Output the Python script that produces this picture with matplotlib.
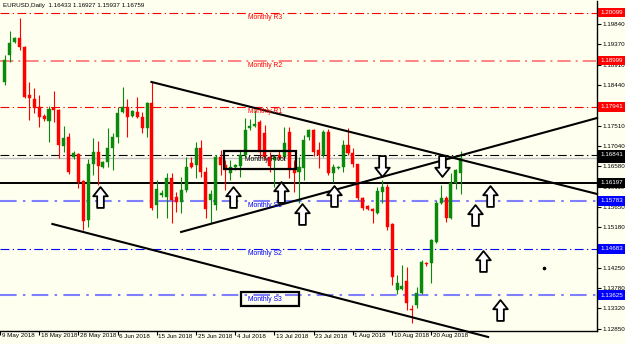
import numpy as np
import matplotlib.pyplot as plt
from matplotlib.path import Path
from matplotlib.transforms import blended_transform_factory, ScaledTranslation

plt.rcParams['font.family'] = ['Liberation Sans', 'DejaVu Sans']

# daily candles, bar index -1 .. 92 (one bar per trading day incl. sunday bars)
opens = [1.1851, 1.1913, 1.1943, 1.1952, 1.1931, 1.1821, 1.1812, 1.1794, 1.1773, 1.1762,
         1.1791, 1.1787, 1.1704, 1.1725, 1.1679, 1.1686, 1.1624, 1.1535, 1.1663, 1.1691,
         1.1656, 1.1668, 1.1700, 1.1725, 1.1782, 1.1794, 1.1773, 1.1782, 1.1771, 1.1746,
         1.1803, 1.1569, 1.1592, 1.1588, 1.1631, 1.1588, 1.1576, 1.1604, 1.1665, 1.1661,
         1.1700, 1.1645, 1.1581, 1.1569, 1.1679, 1.1661, 1.1643, 1.1656, 1.1658, 1.1684,
         1.1746, 1.1750, 1.1759, 1.1734, 1.1679, 1.1672, 1.1684, 1.1679, 1.1736, 1.1654,
         1.1645, 1.1654, 1.1725, 1.1741, 1.1695, 1.1684, 1.1736, 1.1643, 1.1654, 1.1656,
         1.1707, 1.1688, 1.1663, 1.1585, 1.1567, 1.1560, 1.1551, 1.1599, 1.1610, 1.1526,
         1.1374, 1.1377, 1.1395, 1.1331, 1.1339, 1.1367, 1.1437, 1.1436, 1.1484, 1.1574,
         1.1585, 1.1539, 1.1620, 1.16433]
highs = [1.1913, 1.1968, 1.1954, 1.1998, 1.1934, 1.1851, 1.1837, 1.1821, 1.1778, 1.1796,
         1.1830, 1.1789, 1.1750, 1.1734, 1.1693, 1.1688, 1.1626, 1.1675, 1.1723, 1.1716,
         1.1670, 1.1746, 1.1734, 1.1794, 1.1840, 1.1812, 1.1787, 1.1817, 1.1782, 1.1805,
         1.1851, 1.1626, 1.1604, 1.1643, 1.1643, 1.1599, 1.1633, 1.1679, 1.1679, 1.1714,
         1.1718, 1.1656, 1.1604, 1.1684, 1.1695, 1.1672, 1.1672, 1.1663, 1.1695, 1.1769,
         1.1766, 1.1787, 1.1764, 1.1753, 1.1691, 1.1684, 1.1695, 1.1748, 1.1748, 1.1672,
         1.1679, 1.1730, 1.1743, 1.1743, 1.1714, 1.1741, 1.1743, 1.1663, 1.1659, 1.1718,
         1.1746, 1.1700, 1.1663, 1.1588, 1.1569, 1.1562, 1.1610, 1.1626, 1.1617, 1.1528,
         1.1409, 1.1432, 1.1427, 1.1340, 1.1381, 1.1443, 1.1439, 1.1491, 1.1578, 1.1615,
         1.1590, 1.1642, 1.1652, 1.16927]
lows = [1.1844, 1.1897, 1.1940, 1.1924, 1.1814, 1.1764, 1.1780, 1.1748, 1.1762, 1.1714,
        1.1759, 1.1677, 1.1691, 1.1640, 1.1675, 1.1608, 1.1512, 1.1519, 1.1638, 1.1615,
        1.1654, 1.1656, 1.1649, 1.1711, 1.1780, 1.1725, 1.1771, 1.1769, 1.1734, 1.1725,
        1.1558, 1.1539, 1.1588, 1.1539, 1.1528, 1.1553, 1.1551, 1.1599, 1.1654, 1.1631,
        1.1633, 1.1539, 1.1528, 1.1558, 1.1638, 1.1604, 1.1626, 1.1649, 1.1633, 1.1679,
        1.1741, 1.1748, 1.1679, 1.1672, 1.1645, 1.1610, 1.1672, 1.1672, 1.1631, 1.1599,
        1.1574, 1.1626, 1.1718, 1.1681, 1.1654, 1.1679, 1.1638, 1.1622, 1.1652, 1.1645,
        1.1684, 1.1656, 1.1581, 1.1558, 1.1558, 1.1528, 1.1549, 1.1574, 1.1512, 1.1386,
        1.1365, 1.1374, 1.1329, 1.1299, 1.1333, 1.1365, 1.1430, 1.1390, 1.1482, 1.1571,
        1.1530, 1.1537, 1.1606, 1.15937]
closes = [1.1901, 1.1940, 1.1952, 1.1931, 1.1817, 1.1814, 1.1791, 1.1771, 1.1766, 1.1789,
          1.1788, 1.1707, 1.1723, 1.1645, 1.1688, 1.1622, 1.1533, 1.1663, 1.1691, 1.1659,
          1.1668, 1.1700, 1.1725, 1.1780, 1.1794, 1.1771, 1.1785, 1.1771, 1.1746, 1.1803,
          1.1562, 1.1606, 1.1597, 1.1631, 1.1581, 1.1576, 1.1604, 1.1656, 1.1656, 1.1700,
          1.1645, 1.1560, 1.1594, 1.1679, 1.1661, 1.1649, 1.1656, 1.1661, 1.1684, 1.1741,
          1.1750, 1.1755, 1.1691, 1.1679, 1.1659, 1.1679, 1.1677, 1.1711, 1.1649, 1.1643,
          1.1656, 1.1718, 1.1741, 1.1691, 1.1684, 1.1736, 1.1643, 1.1656, 1.1656, 1.1707,
          1.1688, 1.1663, 1.1585, 1.1562, 1.1560, 1.1555, 1.1601, 1.1610, 1.1519, 1.1404,
          1.1390, 1.1384, 1.1345, 1.1328, 1.1367, 1.1438, 1.1433, 1.1489, 1.1574, 1.1585,
          1.1539, 1.1620, 1.1649, 1.16759]

date_labels = ['9 May 2018', '18 May 2018', '28 May 2018', '6 Jun 2018', '15 Jun 2018',
               '25 Jun 2018', '4 Jul 2018', '13 Jul 2018', '23 Jul 2018', '1 Aug 2018',
               '10 Aug 2018', '20 Aug 2018']
date_bars = [-2, 6, 14, 22, 30, 38, 46, 54, 62, 70, 78, 86]

price_ticks = [1.19840, 1.19370, 1.18910, 1.18440, 1.17980, 1.17510, 1.17040, 1.16580,
               1.16110, 1.15650, 1.15180, 1.14710, 1.14250, 1.13780, 1.13320, 1.12850]

# monthly pivot levels
level_names = ['Monthly R3', 'Monthly R2', 'Monthly R1', 'Monthly Pivot',
               'Monthly S1', 'Monthly S2', 'Monthly S3']
level_values = [1.20099, 1.18999, 1.17941, 1.16841, 1.15783, 1.14683, 1.13625]
level_colors = ['#ff0000', '#ff7070', '#ff0000', '#000000', '#8080ff', '#0000ff', '#8080ff']
level_widths = [0.8, 1.2, 0.8, 0.8, 1.5, 0.8, 1.5]
tag_colors = ['#ff0000', '#ff0000', '#ff0000', '#000000', '#0000ff', '#0000ff', '#0000ff']
text_colors = ['#ff0000', '#ff0000', '#ff0000', '#000000', '#0000ff', '#0000ff', '#0000ff']

bid = 1.16759
support = 1.16197

# trend lines (bar, price)
upper_line = ([28.9, 119.8], [1.18511, 1.15944])
mid_line = ([34.95, 119.8], [1.15073, 1.17685])
lower_line = ([8.69, 97.58], [1.15256, 1.12666])

# hand drawn arrows
arrow_x = [18.5, 45.6, 55.4, 59.6, 66.1, 76.0, 88.1, 98.0, 95.0, 96.6, 100.0]
arrow_y = [1.15863, 1.15875, 1.15978, 1.15485, 1.15898, 1.16585, 1.16585, 1.15898,
           1.15462, 1.14408, 1.13285]
arrow_dir = ['up', 'up', 'up', 'up', 'up', 'down', 'down', 'up', 'up', 'up', 'up']

bg = '#fffff0'
green = '#0a8a0a'
red = '#ff0000'
fs = 4.5

fig = plt.figure(figsize=(6.25, 3.44), dpi=100, facecolor=bg)
ax = fig.add_axes([0, 13/344, 597/625, 330/344], facecolor=bg)

x = np.arange(len(opens)) - 1
o = np.array(opens); h = np.array(highs); l = np.array(lows); c = np.array(closes)
col = np.where(c >= o, green, red)

ax.vlines(x, l, h, colors=col, lw=0.8, zorder=3)
ax.bar(x, np.maximum(np.abs(c - o), 0.00005), bottom=np.minimum(o, c), width=0.62,
       color=col, edgecolor=col, lw=0.3, zorder=4)

dash = (0, (8, 3, 1.2, 3))
for name, v, lc, lw, tc in zip(level_names, level_values, level_colors, level_widths, text_colors):
    ax.axhline(v, color=lc, lw=lw, ls=dash, zorder=2)
    ax.annotate(name, (52.1, v), xytext=(0, -3.3), textcoords='offset points',
                ha='center', va='center', fontsize=fs + 0.4, color=tc, zorder=6)

ax.axhline(bid, color='#c0c0c0', lw=1, zorder=2)
ax.axhline(support, color='black', lw=1.4, zorder=2)

# boxes around pivot / s3
ax.add_patch(plt.Rectangle((43.8, 1.16517), 14.6, 0.00412, fill=False, ec='black', lw=1.6, zorder=6))
ax.add_patch(plt.Rectangle((47.1, 1.13377), 11.9, 0.00320, fill=False, ec='black', lw=1.6, zorder=6))

for ln in (upper_line, mid_line, lower_line):
    ax.plot(ln[0], ln[1], color='black', lw=1.5, zorder=5, clip_on=False)

up = Path([(0, 1), (0.7, 0.12), (0.32, 0.12), (0.32, -1), (-0.32, -1), (-0.32, 0.12),
           (-0.7, 0.12), (0, 1)], closed=True)
down = Path([(vx, -vy) for vx, vy in up.vertices], closed=True)
for ax_, ay_, d in zip(arrow_x, arrow_y, arrow_dir):
    ax.plot(ax_, ay_, marker=up if d == 'up' else down, ms=15, mfc='white', mec='black',
            mew=1.3, zorder=7)

ax.plot(108.9, 1.14247, marker='o', ms=1.6, color='black', zorder=7)

ax.set_xlim(-0.81, 119.8)
ax.set_ylim(1.12803, 1.20367)

for s in ('left', 'top'):
    ax.spines[s].set_visible(False)
ax.spines['right'].set_linewidth(1)
ax.spines['bottom'].set_linewidth(1)

ax.yaxis.tick_right()
ax.set_yticks(price_ticks)
ax.set_yticklabels(['%.5f' % p for p in price_ticks])
ax.tick_params(axis='y', direction='out', length=3, width=0.8, pad=1.2, labelsize=fs)

# date axis: tick marks + labels to the right of each tick
ax.set_xticks(date_bars)
ax.set_xticklabels([])
ax.tick_params(axis='x', direction='out', length=3, width=0.8)
trx = blended_transform_factory(ax.transData, ax.transAxes)
off = ScaledTranslation(1.5/100, -2.5/100, fig.dpi_scale_trans)
for b, lab in zip(date_bars, date_labels):
    ax.text(b, 0, lab, transform=trx + off, fontsize=fs, ha='left', va='top', clip_on=False)

# price tags on the right axis
tr = blended_transform_factory(ax.transAxes, ax.transData)
def tag(v, fc, z):
    ax.text(1.005, v, '%.5f' % v, transform=tr, fontsize=fs, color='white', va='center',
            ha='left', bbox=dict(boxstyle='square,pad=0.35', fc=fc, ec='none'), zorder=z,
            clip_on=False)

tag(bid, 'black', 8)
for v, tc in zip(level_values, tag_colors):
    tag(v, tc, 9)
tag(support, 'black', 9)

fig.text(3/625, 1 - 6/344, 'EURUSD,Daily  1.16433 1.16927 1.15937 1.16759', fontsize=fs,
         va='center', ha='left')

fig.savefig('out.png', dpi=100, facecolor=bg)
